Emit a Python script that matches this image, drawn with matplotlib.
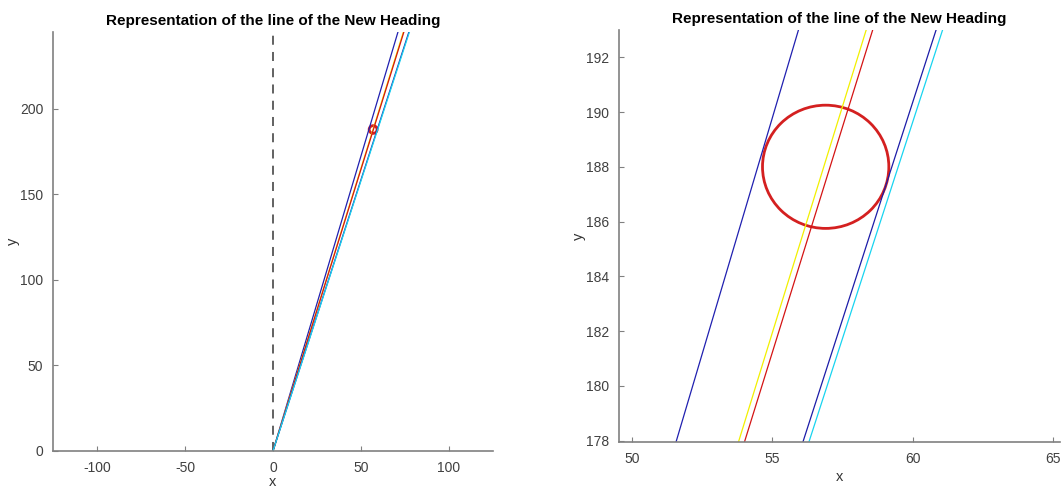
import matplotlib.pyplot as plt
from matplotlib.patches import Circle

plt.rcParams["font.family"] = ["Liberation Sans", "DejaVu Sans"]
plt.rcParams["axes.unicode_minus"] = False

# heading lines through the origin, given as dx/dy
slopes = [0.2898, 0.3023, 0.3035, 0.3152, 0.3164]
colors = ["#2020b0", "#f2f000", "#d41414", "#1c1ca8", "#18d4f0"]
y_end = 260.0

# target point and its tolerance circle
target_x, target_y, target_r = 56.9, 188.0, 2.25

panels = [
    dict(rect=[0.0499, 0.0796, 0.4143, 0.855], xlim=(-125, 125), ylim=(0, 245),
         xticks=[-100, -50, 0, 50, 100], yticks=[0, 50, 100, 150, 200],
         dashed=True, xpad=0.5),
    dict(rect=[0.5829, 0.098, 0.4153, 0.841], xlim=(49.54, 65.25), ylim=(177.95, 193),
         xticks=[50, 55, 60, 65], yticks=list(range(178, 193, 2)),
         dashed=False, xpad=3),
]

fig = plt.figure(figsize=(10.62, 4.9), dpi=100)
for p in panels:
    ax = fig.add_axes(p["rect"])
    if p["dashed"]:
        ax.plot([0, 0], [0, y_end], color="#555555", lw=1.3, ls=(0, (5, 4)))
    for s, c in zip(slopes, colors):
        ax.plot([0, s * y_end], [0, y_end], color=c, lw=0.9)
    ax.add_patch(Circle((target_x, target_y), target_r, fill=False,
                        edgecolor="#d42020", lw=2.0))
    ax.set_xlim(*p["xlim"])
    ax.set_ylim(*p["ylim"])
    ax.set_xticks(p["xticks"])
    ax.set_yticks(p["yticks"])
    for side in ("top", "right"):
        ax.spines[side].set_visible(False)
    for side in ("left", "bottom"):
        ax.spines[side].set_color("#808080")
        ax.spines[side].set_linewidth(1.2)
    ax.tick_params(direction="in", length=3.5, color="#808080",
                   labelcolor="#404040", labelsize=10, pad=7)
    ax.set_xlabel("x", fontsize=10.5, color="#333333", labelpad=p["xpad"])
    ax.set_ylabel("y", fontsize=10.5, color="#333333", labelpad=0)
    ax.set_title("Representation of the line of the New Heading",
                 fontsize=11, fontweight="bold", pad=5)

fig.savefig("out.png", dpi=100)
